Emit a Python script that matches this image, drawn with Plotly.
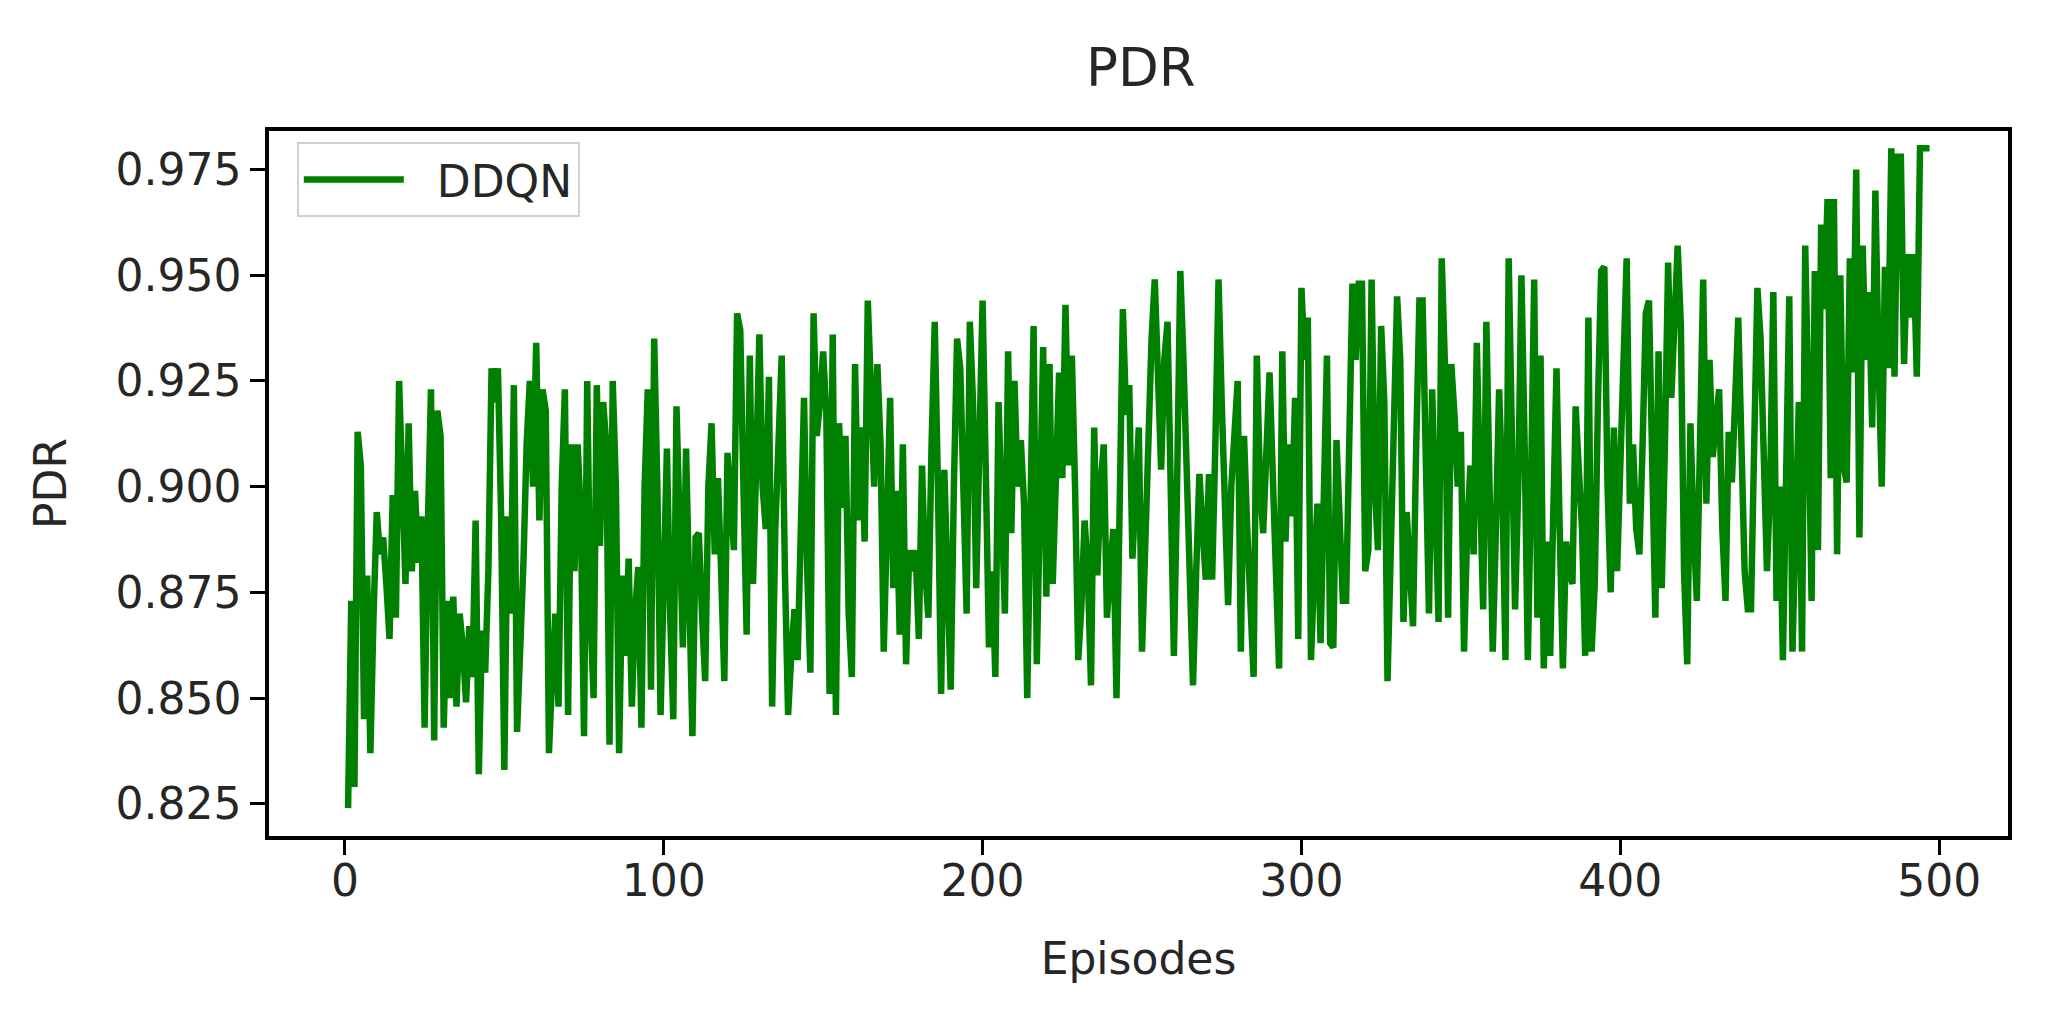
import plotly.graph_objects as go

# PDR per episode (episodes 1..497)
pdr_001_100 = [
    0.824, 0.873, 0.829, 0.913, 0.905, 0.845, 0.879, 0.837, 0.870, 0.894,
    0.884, 0.888, 0.877, 0.864, 0.898, 0.869, 0.925, 0.905, 0.877, 0.915,
    0.880, 0.899, 0.882, 0.893, 0.843, 0.890, 0.923, 0.840, 0.918, 0.912,
    0.843, 0.873, 0.850, 0.874, 0.848, 0.870, 0.862, 0.849, 0.867, 0.855,
    0.892, 0.832, 0.866, 0.856, 0.880, 0.928, 0.920, 0.928, 0.893, 0.833,
    0.893, 0.870, 0.924, 0.842, 0.860, 0.882, 0.910, 0.925, 0.900, 0.934,
    0.892, 0.923, 0.918, 0.837, 0.855, 0.870, 0.848, 0.900, 0.923, 0.846,
    0.910, 0.880, 0.910, 0.893, 0.841, 0.925, 0.870, 0.850, 0.924, 0.886,
    0.920, 0.910, 0.839, 0.925, 0.900, 0.837, 0.879, 0.860, 0.883, 0.848,
    0.870, 0.881, 0.843, 0.900, 0.923, 0.852, 0.935, 0.900, 0.846, 0.880,
]
pdr_101_200 = [
    0.909, 0.870, 0.845, 0.919, 0.890, 0.862, 0.909, 0.880, 0.841, 0.888,
    0.889, 0.870, 0.854, 0.900, 0.915, 0.884, 0.902, 0.880, 0.854, 0.908,
    0.895, 0.885, 0.941, 0.937, 0.900, 0.865, 0.931, 0.877, 0.905, 0.936,
    0.900, 0.890, 0.926, 0.848, 0.890, 0.910, 0.931, 0.880, 0.846, 0.860,
    0.871, 0.859, 0.890, 0.921, 0.880, 0.856, 0.941, 0.912, 0.920, 0.932,
    0.917, 0.851, 0.936, 0.846, 0.915, 0.895, 0.912, 0.870, 0.855, 0.929,
    0.892, 0.914, 0.887, 0.944, 0.923, 0.900, 0.929, 0.910, 0.861, 0.890,
    0.921, 0.876, 0.899, 0.865, 0.910, 0.858, 0.885, 0.880, 0.885, 0.864,
    0.905, 0.880, 0.869, 0.910, 0.939, 0.900, 0.851, 0.904, 0.880, 0.852,
    0.900, 0.935, 0.928, 0.900, 0.870, 0.939, 0.920, 0.876, 0.910, 0.944,
]
pdr_201_300 = [
    0.904, 0.862, 0.880, 0.855, 0.920, 0.892, 0.870, 0.932, 0.889, 0.925,
    0.900, 0.911, 0.896, 0.850, 0.900, 0.938, 0.858, 0.900, 0.933, 0.874,
    0.929, 0.877, 0.900, 0.927, 0.902, 0.943, 0.905, 0.931, 0.900, 0.859,
    0.872, 0.892, 0.880, 0.853, 0.914, 0.879, 0.900, 0.910, 0.869, 0.880,
    0.890, 0.850, 0.900, 0.942, 0.917, 0.924, 0.883, 0.900, 0.914, 0.861,
    0.890, 0.920, 0.935, 0.949, 0.920, 0.904, 0.930, 0.939, 0.900, 0.860,
    0.900, 0.951, 0.930, 0.900, 0.875, 0.853, 0.880, 0.903, 0.890, 0.878,
    0.903, 0.878, 0.910, 0.949, 0.920, 0.890, 0.872, 0.900, 0.910, 0.925,
    0.861, 0.912, 0.890, 0.870, 0.855, 0.931, 0.901, 0.889, 0.910, 0.927,
    0.903, 0.880, 0.857, 0.932, 0.887, 0.910, 0.893, 0.921, 0.864, 0.947,
]
pdr_301_400 = [
    0.930, 0.940, 0.859, 0.880, 0.896, 0.863, 0.900, 0.931, 0.863, 0.862,
    0.911, 0.890, 0.873, 0.873, 0.910, 0.948, 0.930, 0.948, 0.948, 0.880,
    0.885, 0.949, 0.900, 0.885, 0.938, 0.920, 0.854, 0.880, 0.910, 0.945,
    0.930, 0.868, 0.894, 0.880, 0.867, 0.910, 0.944, 0.944, 0.900, 0.870,
    0.923, 0.900, 0.868, 0.954, 0.929, 0.869, 0.929, 0.917, 0.900, 0.913,
    0.861, 0.890, 0.905, 0.884, 0.934, 0.900, 0.871, 0.939, 0.900, 0.861,
    0.890, 0.923, 0.900, 0.859, 0.954, 0.920, 0.871, 0.900, 0.950, 0.910,
    0.859, 0.900, 0.949, 0.869, 0.931, 0.857, 0.887, 0.860, 0.900, 0.928,
    0.890, 0.857, 0.887, 0.880, 0.877, 0.919, 0.904, 0.890, 0.860, 0.940,
    0.861, 0.877, 0.920, 0.951, 0.952, 0.900, 0.875, 0.914, 0.880, 0.907,
]
pdr_401_497 = [
    0.930, 0.954, 0.896, 0.910, 0.890, 0.884, 0.910, 0.941, 0.944, 0.900,
    0.869, 0.932, 0.876, 0.910, 0.953, 0.921, 0.940, 0.957, 0.938, 0.880,
    0.858, 0.915, 0.890, 0.873, 0.910, 0.949, 0.896, 0.930, 0.907, 0.915,
    0.923, 0.890, 0.873, 0.913, 0.901, 0.920, 0.940, 0.910, 0.880, 0.871,
    0.871, 0.910, 0.947, 0.935, 0.910, 0.880, 0.900, 0.946, 0.873, 0.900,
    0.859, 0.900, 0.945, 0.861, 0.890, 0.920, 0.861, 0.957, 0.920, 0.873,
    0.951, 0.885, 0.962, 0.942, 0.968, 0.902, 0.968, 0.884, 0.950, 0.905,
    0.901, 0.954, 0.927, 0.975, 0.888, 0.957, 0.930, 0.946, 0.914, 0.970,
    0.930, 0.900, 0.952, 0.928, 0.980, 0.926, 0.978, 0.978, 0.929, 0.955,
    0.940, 0.955, 0.926, 0.980, 0.980, 0.980, 0.980,
]

pdr = pdr_001_100 + pdr_101_200 + pdr_201_300 + pdr_301_400 + pdr_401_497
episodes = list(range(1, len(pdr) + 1))

x_ticks = [0, 100, 200, 300, 400, 500]
y_ticks = [0.825, 0.850, 0.875, 0.900, 0.925, 0.950, 0.975]

FONT = "DejaVu Sans"
TXT = "#262626"

fig = go.Figure()
fig.add_trace(go.Scatter(
    x=episodes, y=pdr, mode="lines", name="\u00a0\u00a0DDQN",
    line=dict(color="#008000", width=6.5),
))

fig.update_layout(
    width=2069, height=1020,
    paper_bgcolor="white", plot_bgcolor="white",
    margin=dict(l=261, r=69, t=123, b=192),
    font=dict(family=FONT, size=44, color=TXT),
    title=dict(text="PDR", x=0.5475, xanchor="center", y=0.942, yanchor="middle",
               font=dict(family=FONT, size=53, color=TXT)),
    showlegend=True,
    legend=dict(x=0.016, y=0.984, xanchor="left", yanchor="top",
                bordercolor="#d0d0d0", borderwidth=2, bgcolor="white",
                font=dict(family=FONT, size=44, color=TXT),
                itemwidth=100),
)

fig.update_xaxes(
    range=[-23.8, 521.6], tickvals=x_ticks, ticktext=[str(v) for v in x_ticks],
    showgrid=False, zeroline=False,
    showline=True, linecolor="black", linewidth=3.5, mirror=True,
    ticks="outside", ticklen=15, tickwidth=3, tickcolor="black",
    ticklabelstandoff=-12,
    title=dict(text="Episodes", font=dict(family=FONT, size=44, color=TXT), standoff=40),
)
fig.update_yaxes(
    range=[0.8174, 0.9841], tickvals=y_ticks, ticktext=[f"{v:.3f}" for v in y_ticks],
    showgrid=False, zeroline=False,
    showline=True, linecolor="black", linewidth=3.5, mirror=True,
    ticks="outside", ticklen=15, tickwidth=3, tickcolor="black",
    title=dict(text="PDR", font=dict(family=FONT, size=44, color=TXT), standoff=36),
)

fig.write_html("out.html")
